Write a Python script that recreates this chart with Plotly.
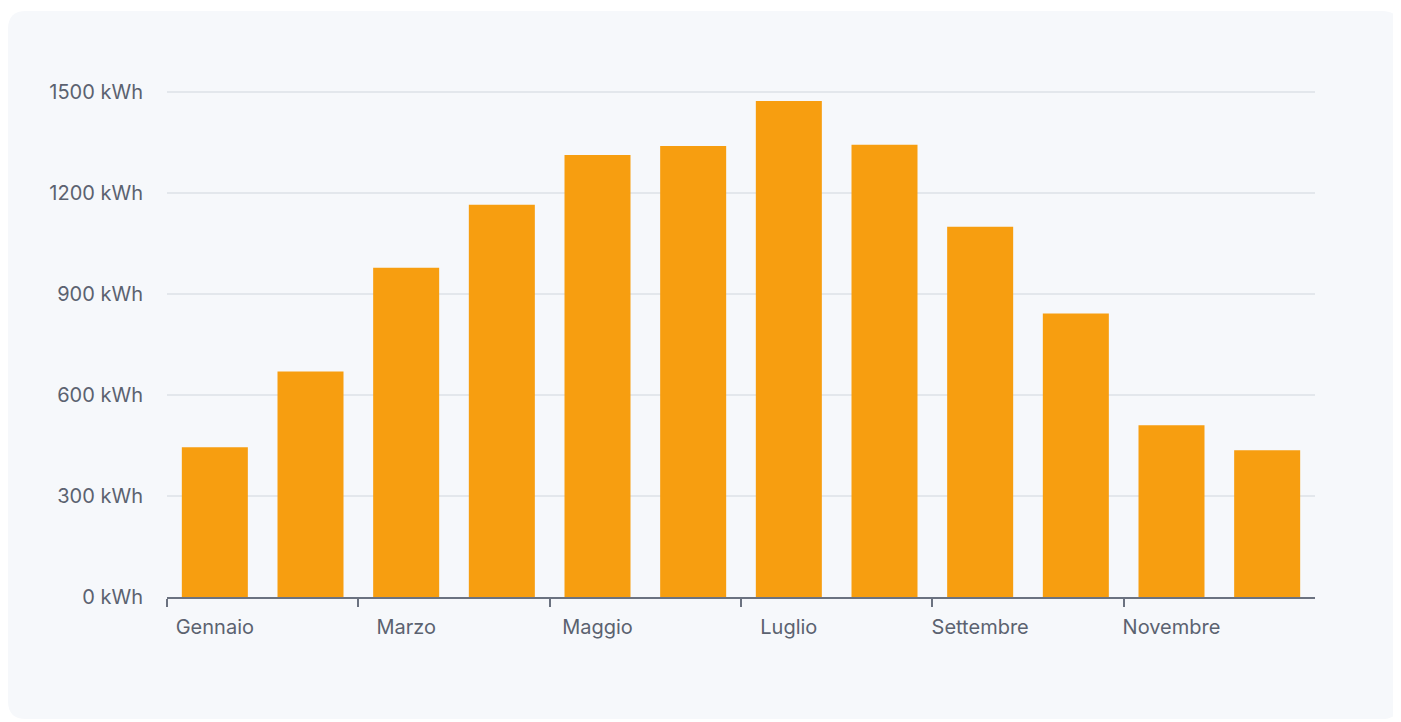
import plotly.graph_objects as go

months = ["Gennaio", "Febbraio", "Marzo", "Aprile", "Maggio", "Giugno",
          "Luglio", "Agosto", "Settembre", "Ottobre", "Novembre", "Dicembre"]
kwh = [445, 670, 978, 1165, 1313, 1340, 1473, 1343, 1100, 842, 510, 436]
y_ticks = [0, 300, 600, 900, 1200, 1500]
y_labels = [f"{v} kWh" for v in y_ticks]

# page adds an 8px body margin, so the figure is sized to fit the window
W, H = 1393, 714
L, R, T, B = 159, 86, 83, 125   # plot-area margins in px


def px_to_paper(x, y):
    pw, ph = W - L - R, H - T - B
    return (x - L) / pw, (H - B - y) / ph


def rounded_panel(x0, y0, x1, y1, r):
    # rounded rectangle (pixel coords) -> svg path in paper coords
    def p(x, y):
        a, b = px_to_paper(x, y)
        return f"{a:.5f},{b:.5f}"
    pts = [
        "M" + p(x0 + r, y0),
        "L" + p(x1 - r, y0),
        "Q" + p(x1, y0) + " " + p(x1, y0 + r),
        "L" + p(x1, y1 - r),
        "Q" + p(x1, y1) + " " + p(x1 - r, y1),
        "L" + p(x0 + r, y1),
        "Q" + p(x0, y1) + " " + p(x0, y1 - r),
        "L" + p(x0, y0 + r),
        "Q" + p(x0, y0) + " " + p(x0 + r, y0),
    ]
    return " ".join(pts) + " Z"


xs = [i + 0.5 for i in range(len(months))]

fig = go.Figure(go.Bar(
    x=xs, y=kwh, width=0.69, marker_color="#f79e10", marker_line_width=0,
    hovertext=months, hovertemplate="%{hovertext}: %{y} kWh<extra></extra>",
))

fig.add_shape(type="path", xref="paper", yref="paper", layer="below",
              path=rounded_panel(0, 3, 1392, 711, 18),
              fillcolor="#f6f8fb", line_width=0)

# labels centred on every other month, tick marks on the month boundaries
fig.update_xaxes(
    range=[0, 12], tickmode="array", tickvals=xs[0::2],
    ticktext=months[0::2], ticks="", showline=True,
    linecolor="#6b7280", linewidth=2,
    minor=dict(tickmode="array", tickvals=list(range(0, 12, 2)),
               ticks="outside", ticklen=8, tickwidth=2, tickcolor="#6b7280",
               showgrid=False),
    showgrid=False, zeroline=False, ticklabelstandoff=11,
    tickfont=dict(size=20, color="#5b6270"),
)
fig.update_yaxes(
    range=[0, 1503], tickmode="array", tickvals=y_ticks, ticktext=y_labels,
    showgrid=True, gridcolor="#e3e7ec", gridwidth=1.5, zeroline=False,
    ticklabelstandoff=23, tickfont=dict(size=20, color="#5b6270"),
)
fig.update_layout(
    width=W, height=H, margin=dict(l=L, r=R, t=T, b=B),
    paper_bgcolor="white", plot_bgcolor="rgba(0,0,0,0)",
    font=dict(family="Inter, sans-serif"), showlegend=False,
)

fig.write_html("out.html")
